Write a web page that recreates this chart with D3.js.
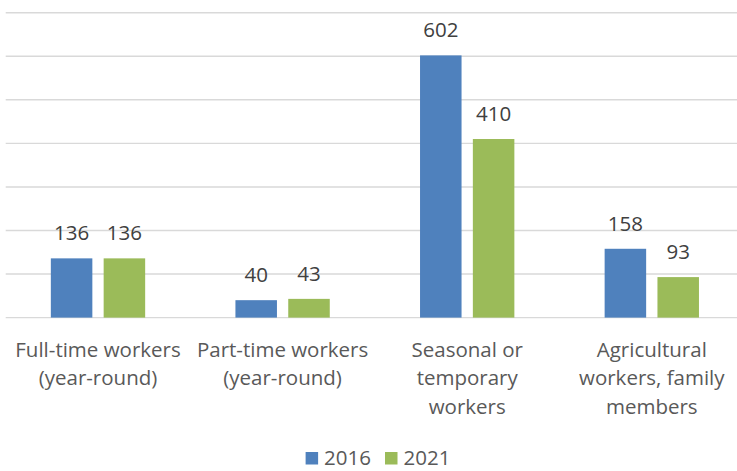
<!DOCTYPE html>
<html>
<head>
<meta charset="utf-8">
<script src="https://cdn.jsdelivr.net/npm/d3@7"></script>
<style>
  html, body { margin: 0; padding: 0; background: #ffffff; }
  svg { display: block; }
  text { font-family: "Open Sans", "DejaVu Sans", sans-serif; }
</style>
</head>
<body>
<div id="chart"></div>
<script>
// ---- data ----
const categories = [
  "Full-time workers\n(year-round)",
  "Part-time workers\n(year-round)",
  "Seasonal or\ntemporary\nworkers",
  "Agricultural\nworkers, family\nmembers"
];
const seriesNames = ["2016", "2021"];
const values2016 = [136, 40, 602, 158];
const values2021 = [136, 43, 410, 93];
const seriesColors = ["#4F81BD", "#9BBB59"];
const gridTicks = [0, 100, 200, 300, 400, 500, 600, 700];

// ---- layout ----
const W = 737, H = 471;
const plot = { left: 5.7, right: 744.1, top: 12.7, bottom: 317.6 };

const svg = d3.select("#chart").append("svg")
  .attr("width", W).attr("height", H);

const rows = categories.map((c, i) => ({
  cat: c,
  vals: [values2016[i], values2021[i]]
}));

const x0 = d3.scaleBand()
  .domain(categories)
  .range([plot.left, plot.right])
  .paddingInner(0.489)
  .paddingOuter(0.2445);

const x1 = d3.scaleBand()
  .domain(seriesNames)
  .range([0, x0.bandwidth()])
  .paddingInner(0.214)
  .paddingOuter(0);

const y = d3.scaleLinear()
  .domain([0, 700])
  .range([plot.bottom, plot.top]);

// gridlines
svg.append("g").selectAll("line")
  .data(gridTicks)
  .join("line")
  .attr("x1", plot.left)
  .attr("x2", W)
  .attr("y1", d => y(d))
  .attr("y2", d => y(d))
  .attr("stroke", "#D9D9D9")
  .attr("stroke-width", 1.4);

// bars
const groups = svg.append("g").selectAll("g")
  .data(rows)
  .join("g")
  .attr("transform", d => `translate(${x0(d.cat)},0)`);

groups.selectAll("rect")
  .data(d => d.vals.map((v, j) => ({ key: seriesNames[j], v, j })))
  .join("rect")
  .attr("x", d => x1(d.key))
  .attr("width", x1.bandwidth())
  .attr("y", d => y(d.v))
  .attr("height", d => y(0) - y(d.v))
  .attr("fill", d => seriesColors[d.j]);

// value labels
groups.selectAll("text.val")
  .data(d => d.vals.map((v, j) => ({ key: seriesNames[j], v, j })))
  .join("text")
  .attr("class", "val")
  .attr("x", d => x1(d.key) + x1.bandwidth() / 2)
  .attr("y", d => y(d.v) - 18)
  .attr("text-anchor", "middle")
  .attr("font-size", "20.5px")
  .attr("fill", "#404040")
  .text(d => d.v);

// category labels
const catG = svg.append("g");
categories.forEach(c => {
  const t = catG.append("text")
    .attr("text-anchor", "middle")
    .attr("font-size", "20.5px")
    .attr("fill", "#595959")
    .attr("x", x0(c) + x0.bandwidth() / 2)
    .attr("y", 357);
  c.split("\n").forEach((line, i) => {
    t.append("tspan")
      .attr("x", x0(c) + x0.bandwidth() / 2)
      .attr("dy", i === 0 ? 0 : 28.3)
      .text(line);
  });
});

// legend
const legend = svg.append("g");
const sq = 12.5, gapText = 6, gapItem = 14;
const legBase = 465;
let cx = 0;
seriesNames.forEach((name, i) => {
  const g = legend.append("g");
  g.append("rect")
    .attr("x", cx).attr("y", legBase - 13)
    .attr("width", sq).attr("height", sq)
    .attr("fill", seriesColors[i]);
  const t = g.append("text")
    .attr("x", cx + sq + gapText)
    .attr("y", legBase)
    .attr("font-size", "20.5px")
    .attr("fill", "#595959")
    .text(name);
  cx += sq + gapText + t.node().getComputedTextLength() + gapItem;
});
const totalW = cx - gapItem;
legend.attr("transform", `translate(${378 - totalW / 2},0)`);
</script>
</body>
</html>
